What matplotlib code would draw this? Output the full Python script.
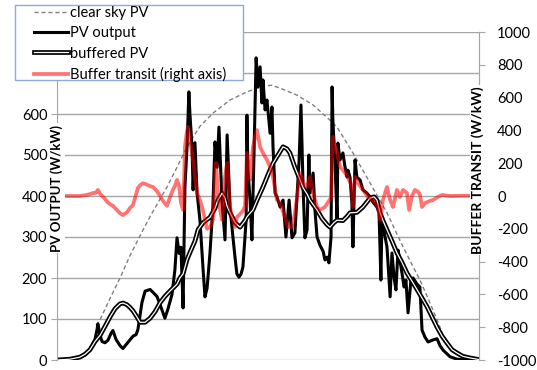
import matplotlib
matplotlib.use("Agg")
import matplotlib.pyplot as plt
import matplotlib.patheffects as pe
from matplotlib.patches import Rectangle

plt.rcParams['font.family'] = ['Lato', 'DejaVu Sans']
plt.rcParams['axes.unicode_minus'] = False

# time of day (hours) and PV output (W/kW)
pv_time = [4.00, 4.49, 4.87, 5.06, 5.25, 5.36, 5.44, 5.52, 5.55, 5.63, 5.71, 5.82, 5.93, 6.05,
           6.12, 6.24, 6.39, 6.50, 6.65, 6.77, 6.88, 7.00, 7.07, 7.15, 7.22, 7.34, 7.53, 7.64,
           7.79, 7.91, 8.02, 8.09, 8.21, 8.36, 8.47, 8.55, 8.63, 8.70, 8.78, 8.85, 8.93, 9.00,
           9.04, 9.12, 9.16, 9.23, 9.31, 9.42, 9.54, 9.61, 9.69, 9.80, 9.91, 9.99, 10.07, 10.14,
           10.26, 10.37, 10.45, 10.56, 10.67, 10.75, 10.82, 10.90, 10.98, 11.05, 11.17, 11.20,
           11.24, 11.32, 11.39, 11.47, 11.55, 11.62, 11.70, 11.77, 11.81, 11.89, 11.96, 12.08,
           12.15, 12.19, 12.27, 12.34, 12.46, 12.57, 12.68, 12.80, 12.91, 13.02, 13.10, 13.18,
           13.25, 13.33, 13.40, 13.48, 13.55, 13.59, 13.71, 13.78, 13.86, 13.97, 14.09, 14.16,
           14.24, 14.31, 14.39, 14.43, 14.46, 14.54, 14.62, 14.65, 14.73, 14.84, 14.92, 15.00,
           15.03, 15.11, 15.18, 15.22, 15.30, 15.37, 15.49, 15.60, 15.75, 15.87, 15.98, 16.13,
           16.21, 16.28, 16.32, 16.44, 16.51, 16.55, 16.63, 16.70, 16.78, 16.85, 16.93, 17.00,
           17.08, 17.16, 17.23, 17.31, 17.42, 17.50, 17.65, 17.76, 17.84, 17.95, 18.07, 18.26,
           18.41, 18.52, 18.64, 18.90, 19.17, 19.55, 20.00]
pv_output = [0, 2, 7, 12, 25, 40, 50, 75, 88, 60, 45, 42, 48, 65,
             72, 50, 35, 28, 40, 50, 58, 62, 75, 110, 140, 168, 172, 165,
             155, 135, 115, 102, 125, 160, 220, 298, 260, 275, 127, 422, 520, 654,
             600, 520, 415, 530, 407, 341, 220, 154, 175, 261, 373, 532, 470, 568,
             383, 293, 549, 373, 300, 250, 210, 202, 210, 227, 341, 597,
             463, 390, 293, 505, 737, 666, 715, 627, 683, 610, 634, 553,
             617, 520, 407, 398, 373, 390, 300, 390, 298, 310, 398, 488,
             622, 422, 298, 317, 500, 407, 456, 366, 300, 280, 265, 244,
             251, 237, 300, 666, 585, 480, 341, 529, 488, 505, 471, 446,
             463, 446, 383, 276, 488, 446, 439, 415, 407, 398, 385, 373,
             359, 195, 341, 300, 276, 237, 154, 261, 202, 171, 268, 244,
             212, 178, 195, 115, 195, 200, 185, 178, 73, 56, 44, 49,
             52, 35, 24, 8, 2, 0, 0]

# buffered PV (W/kW)
buf_time = [4.00, 4.49, 4.87, 5.06, 5.25, 5.44, 5.63, 5.82, 6.01, 6.20, 6.39, 6.50, 6.65, 6.77,
            6.88, 7.03, 7.15, 7.34, 7.53, 7.72, 7.91, 8.09, 8.28, 8.55, 8.66, 8.78, 8.93, 9.04,
            9.23, 9.35, 9.54, 9.80, 9.99, 10.10, 10.26, 10.37, 10.45, 10.56, 10.75, 10.94, 11.13,
            11.20, 11.43, 11.62, 11.81, 12.00, 12.19, 12.38, 12.57, 12.72, 12.83, 13.02, 13.21,
            13.33, 13.48, 13.59, 13.86, 14.05, 14.24, 14.35, 14.50, 14.62, 14.84, 15.00, 15.11,
            15.37, 15.60, 15.87, 16.02, 16.13, 16.25, 16.36, 16.51, 16.70, 16.89, 17.08, 17.27,
            17.50, 17.76, 18.03, 18.22, 18.41, 18.60, 18.79, 18.98, 19.17, 19.39, 19.66, 20.00]
buffered_pv = [0, 2, 7, 14, 25, 45, 60, 82, 105, 125, 137, 139, 135, 128,
               120, 105, 92, 92, 102, 118, 140, 155, 168, 185, 200, 210, 245, 262,
               290, 318, 335, 348, 370, 390, 407, 395, 375, 359, 335, 324, 340,
               349, 366, 395, 422, 452, 480, 500, 520, 515, 505, 470, 440,
               420, 405, 390, 366, 345, 330, 324, 335, 341, 340, 350, 359,
               360, 373, 395, 398, 390, 359, 340, 318, 290, 261, 238, 212,
               188, 160, 130, 105, 80, 58, 41, 25, 17, 9, 5, 1]

# clear sky PV (W/kW)
sky_time = [5.48, 5.63, 6.01, 6.39, 6.77, 7.26, 7.53, 7.91, 8.17, 8.55, 8.93, 9.42, 9.91,
            10.56, 11.20, 11.81, 12.15, 12.46, 13.10, 13.71, 14.35, 14.62, 15.22, 15.87,
            16.51, 17.12, 17.76, 18.07, 18.41, 18.64, 19.01, 19.39, 19.66, 20.00]
clear_sky = [85, 98, 150, 200, 255, 317, 350, 393, 422, 470, 520, 570, 602,
             634, 654, 668, 670, 663, 646, 622, 585, 568, 505, 432,
             359, 276, 195, 150, 98, 60, 25, 8, 3, 0]

# buffer transit (W/kW, right axis)
tr_time = [4.00, 4.38, 4.87, 5.18, 5.36, 5.48, 5.55, 5.63, 5.71, 5.78, 5.90, 6.01, 6.12, 6.27,
           6.39, 6.50, 6.65, 6.77, 6.88, 7.00, 7.07, 7.18, 7.26, 7.37, 7.53, 7.64, 7.79, 7.91,
           8.02, 8.17, 8.28, 8.40, 8.47, 8.55, 8.63, 8.70, 8.78, 8.82, 8.85, 8.93, 8.97, 9.04,
           9.12, 9.19, 9.23, 9.31, 9.42, 9.54, 9.61, 9.69, 9.80, 9.91, 9.99, 10.03, 10.10, 10.18,
           10.26, 10.33, 10.37, 10.45, 10.56, 10.64, 10.75, 10.82, 10.94, 11.05, 11.13, 11.17,
           11.20, 11.32, 11.43, 11.51, 11.58, 11.70, 11.81, 11.96, 12.08, 12.19, 12.27, 12.34,
           12.46, 12.64, 12.76, 12.91, 13.02, 13.14, 13.21, 13.33, 13.48, 13.59, 13.71, 13.86,
           13.97, 14.16, 14.31, 14.39, 14.46, 14.54, 14.62, 14.73, 14.84, 15.03, 15.18, 15.22,
           15.30, 15.41, 15.60, 15.79, 15.98, 16.17, 16.25, 16.36, 16.51, 16.63, 16.74, 16.89,
           17.00, 17.12, 17.27, 17.35, 17.46, 17.57, 17.69, 17.76, 17.84, 17.95, 18.14, 18.26,
           18.45, 18.60, 18.90, 19.55, 20.00]
transit = [5, 0, 0, 8, 18, 20, 37, 15, 0, -10, -35, -50, -60, -85,
           -105, -116, -100, -73, -55, 10, 50, 70, 78, 72, 60, 55, 30, 0,
           -30, -60, -10, 40, 60, 98, 60, -40, -85, 100, 300, 400, 421, 340,
           262, 180, 116, 20, -24, -90, -146, -200, -189, -146, 80, 201, 18, -80,
           -146, 30, 116, 201, -67, -130, -189, -130, -110, -90, -60, 100,
           262, 98, 299, 360, 402, 299, 262, 220, 177, 116, 40, -24,
           -43, -128, -189, -189, -104, 40, 140, 79, 55, 116, 18, -67,
           -85, -67, -30, -10, 360, 300, 262, 177, 159, 116, 55, -67,
           116, 79, 37, -6, -24, -67, -146, -24, 55, -24, -67, 37,
           -6, 37, 18, -85, 0, 37, 25, 10, -67, -43, -30, -24,
           -5, 6, 0, 2, 2]

W, H = 537, 370
fig = plt.figure(figsize=(W / 100, H / 100), dpi=100)
ax = fig.add_axes([57 / W, 10 / H, 422 / W, 328 / H])
grid_c = '#a6a6a6'

l_sky, = ax.plot(sky_time, clear_sky, color='#7f7f7f', lw=1.0, ls=(0, (3, 2)),
                 label='clear sky PV')
l_pv, = ax.plot(pv_time, pv_output, color='black', lw=2.2, label='PV output')
l_buf, = ax.plot(buf_time, buffered_pv, color='white', lw=0.9, label='buffered PV',
                 path_effects=[pe.Stroke(linewidth=3.4, foreground='black'), pe.Normal()])

ax.set_xlim(4, 20)
ax.set_ylim(0, 800)
ax.set_yticks(range(0, 801, 100))
ax.set_xticks([])
ax.grid(axis='y', color=grid_c, lw=1)
ax.set_axisbelow(True)
for s in ['top', 'bottom']:
    ax.spines[s].set_visible(False)
ax.spines['left'].set_color(grid_c)
ax.spines['right'].set_color(grid_c)
ax.tick_params(axis='y', length=4, color=grid_c, labelsize=10.5, pad=3)

ax2 = ax.twinx()
l_tr, = ax2.plot(tr_time, transit, color='red', lw=2.7, alpha=0.55,
                 label='Buffer transit (right axis)')
ax2.set_ylim(-1000, 1000)
ax2.set_yticks(range(-1000, 1001, 200))
for s in ['top', 'bottom', 'left']:
    ax2.spines[s].set_visible(False)
ax2.spines['right'].set_color(grid_c)
ax2.tick_params(axis='y', length=4, color=grid_c, labelsize=10.5, pad=9)

# axis titles sit on top of the spines
box = dict(facecolor='white', edgecolor='none', pad=1)
fig.text(57 / W, 1 - 188 / H, 'PV OUTPUT (W/kW)', rotation=90, ha='center', va='center',
         fontsize=9.5, fontweight='bold', bbox=box)
fig.text(478 / W, 1 - 170 / H, 'BUFFER TRANSIT (W/kW)', rotation=90, ha='center',
         va='center', fontsize=10, fontweight='bold', bbox=box)

# legend box
fig.add_artist(Rectangle((15 / W, 1 - 80 / H), 228 / W, 75 / H, transform=fig.transFigure,
                         facecolor='white', edgecolor='#8eaadb', lw=1.0, zorder=4.5))
leg = fig.legend(handles=[l_sky, l_pv, l_buf, l_tr], loc='upper left',
                 bbox_to_anchor=(34 / W, 1 - 6 / H), fontsize=10.5, frameon=False,
                 handlelength=2.3, handletextpad=0.15, labelspacing=0.43,
                 borderpad=0, borderaxespad=0)
leg.set_zorder(5)

fig.savefig('out.png', dpi=100)
